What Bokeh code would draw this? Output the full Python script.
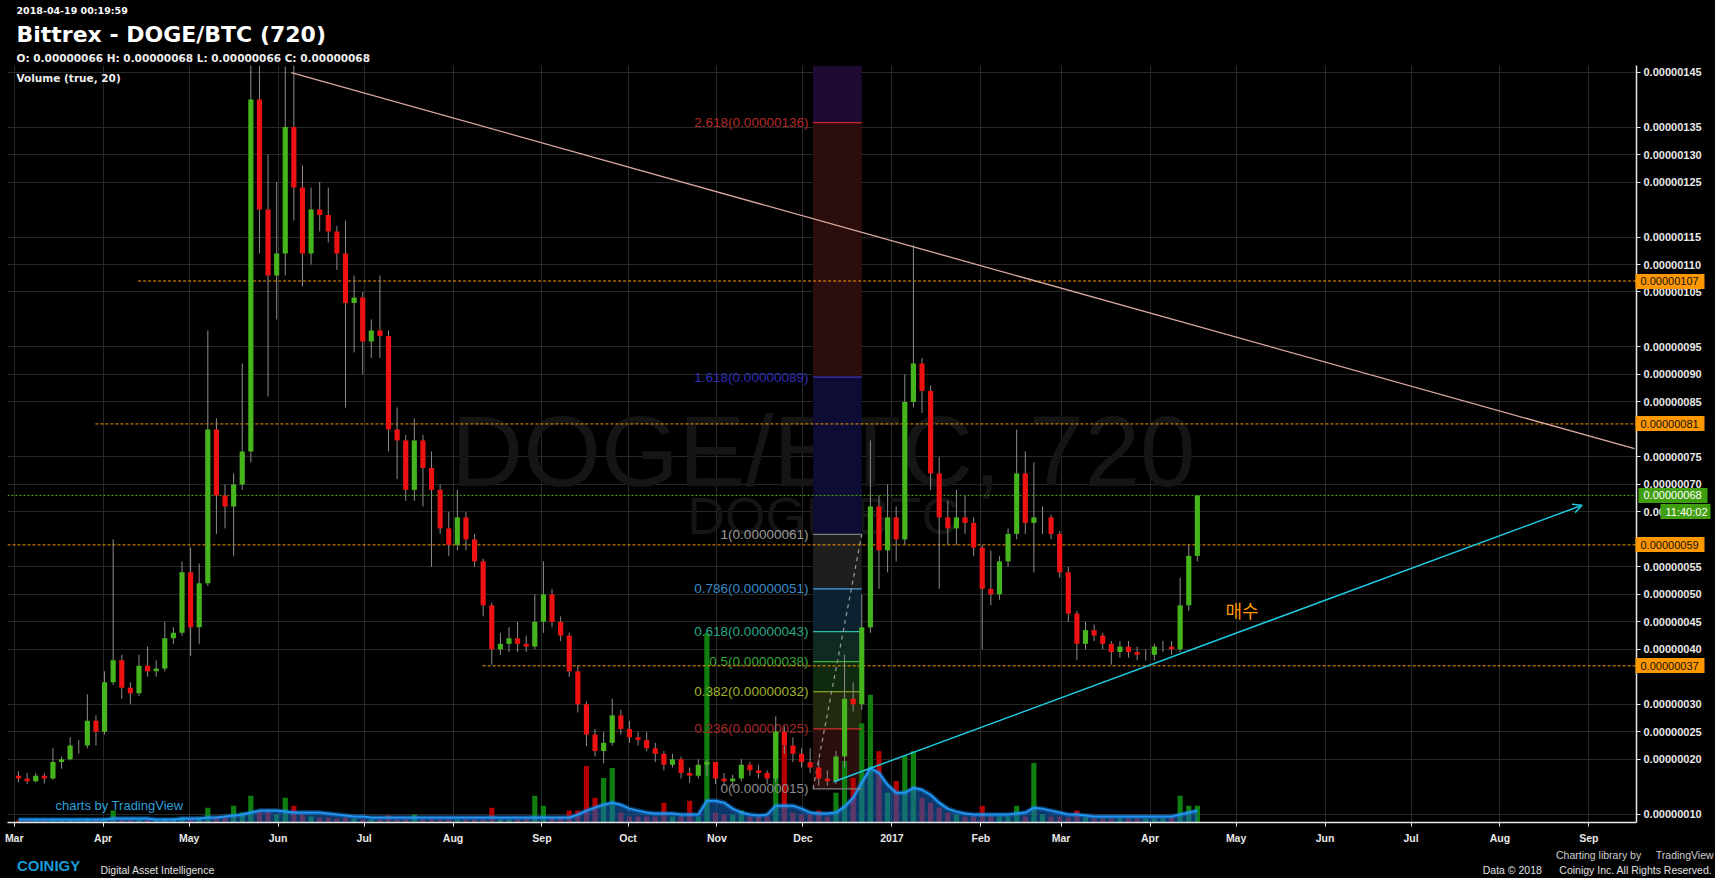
import numpy as np
import pandas as pd
from bokeh.plotting import figure
from bokeh.models import (Range1d, FixedTicker, PrintfTickFormatter, Label, Arrow, OpenHead, Title, LinearAxis)
from bokeh.core.properties import value
from bokeh.embed import file_html
from bokeh.resources import INLINE

SAT = 1e-8                      # prices below are in satoshi
START = pd.Timestamp("2017-03-01")
CANDLE_DAYS = 3                 # each candle below summarises 3 days

# ---------------- data ----------------
opens = [17, 16.5, 16, 17, 16.5, 19.5, 20, 22.5, 22.5, 27, 25, 34, 38, 33, 32, 37, 36, 36.5, 42, 43,
         54, 44, 52, 80, 68, 66, 70, 76, 140, 120, 108, 112, 135, 124, 112, 120, 119, 116, 112, 103,
         104, 96, 98, 97, 80, 78, 69, 78, 73, 69, 62, 59, 64, 60, 56, 48, 40, 41, 42, 41,
         40.5, 45, 50, 45, 42.5, 36, 30, 24.5, 21.5, 23, 28, 25.5, 24, 23.5, 22, 21, 19, 20, 17.5, 17,
         19, 19.5, 16.5, 16, 16.5, 19, 18, 17.5, 16.5, 25, 22.5, 21, 19.5, 18.5, 16.5, 16, 20.5, 31, 30, 44,
         66, 58, 64, 60, 85, 92, 87, 72, 64, 62, 64, 63, 58.5, 51, 50, 56, 61, 72, 63, 64,
         64, 61, 54, 46.5, 41, 43.5, 42.5, 41, 39.5, 40.5, 39.5, 39, 39, 40.5, 40.5, 40, 48, 57]
highs = [17.8, 17.5, 17.5, 17.5, 22, 20.5, 24, 23.5, 31.8, 28, 36, 60, 39, 34, 39, 40.5, 38, 45, 44, 56,
         58.5, 55.6, 98, 82, 70, 72, 92, 160, 152, 130, 125, 146, 147, 128, 124, 125, 124, 117, 118, 108,
         105, 100, 108, 98, 84, 79, 82, 79, 76, 70, 65, 69, 65, 61, 56.5, 48.5, 43, 44, 45, 42.5,
         50, 56, 51, 46, 43, 37, 30.5, 25.5, 25, 31, 29, 27, 25, 25, 23, 21.5, 21, 20.5, 18.5, 20,
         20, 19.5, 17.5, 17.2, 20, 19.5, 19, 18, 27.8, 26, 24, 22, 22, 20, 18, 21.5, 39, 34, 50, 78,
         68, 70, 66, 90, 113.5, 93, 88, 75, 67, 69, 68, 64, 59, 58, 57, 62, 80, 76, 74, 66,
         64.5, 61.5, 55, 47, 45, 44.5, 43, 41.5, 41.5, 41.5, 40.5, 40, 41, 41.5, 41.5, 53, 59, 68]
lows = [15.8, 15.5, 15.8, 15.6, 16.3, 18.3, 19.8, 21, 22, 22.5, 24.5, 33.5, 31, 30, 31.5, 35, 35, 36, 41, 42.5,
        38.8, 41, 51.5, 61, 62, 57, 69, 74, 112, 86, 100, 108, 118, 106, 110, 116, 114, 109, 84, 94,
        90, 93, 93, 76, 71, 67, 67, 66, 55, 61, 57, 58, 58, 55, 46, 37.2, 39, 39.5, 39.5, 39.5,
        40, 43, 44, 41.5, 35, 28.5, 22.4, 20.5, 19.3, 22.5, 24.5, 23, 22.5, 21.5, 19.5, 18, 18.5, 16.5, 15.7, 16.5,
        17, 15.5, 15.2, 14.8, 16, 17, 16.5, 15.5, 15.8, 21, 19.5, 18.5, 17.5, 15.2, 15.2, 15.5, 18.5, 28.7, 29, 43,
        51, 54, 56, 59, 84, 83, 69, 51, 59, 59, 61, 57, 40, 48, 49, 55, 60, 61, 54, 61,
        60, 53, 45, 38, 40, 41.5, 40, 37.2, 38.5, 38.5, 38, 38, 38, 39.5, 39, 39.5, 47, 56]
closes = [16.5, 16, 17, 16.5, 19.5, 20, 22.5, 22.5, 27, 25, 34, 38, 33, 32, 37, 36, 36.5, 42, 43, 54,
          44, 52, 80, 68, 66, 70, 76, 140, 120, 108, 112, 135, 124, 112, 120, 119, 116, 112, 103, 104,
          96, 98, 97, 80, 78, 69, 78, 73, 69, 62, 59, 64, 60, 56, 48, 40, 41, 42, 41, 40.5,
          45, 50, 45, 42.5, 36, 30, 24.5, 21.5, 23, 28, 25.5, 24, 23.5, 22, 21, 19, 20, 17.5, 17, 19,
          19.5, 16.5, 16, 16.5, 19, 18, 17.5, 16.5, 25, 22.5, 21, 19.5, 18.5, 16.5, 16, 20.5, 31, 30, 44, 66,
          58, 64, 60, 85, 92, 87, 72, 64, 62, 64, 63, 58.5, 51, 50, 56, 61, 72, 63, 64, 64,
          61, 54, 46.5, 41, 43.5, 42.5, 41, 39.5, 40.5, 39.5, 39, 39, 40.5, 40.5, 40, 48, 57, 68]
volumes = [2, 2, 2, 2, 3, 2, 3, 2, 4, 3, 4, 12, 3, 3, 3, 3, 3, 4, 4, 5,
           4, 5, 15, 6, 6, 17, 10, 27, 12, 12, 8, 25, 17, 8, 6, 5, 5, 4, 5, 4,
           3, 3, 3, 7, 3, 3, 8, 3, 3, 3, 3, 3, 3, 3, 3, 15, 3, 3, 3, 4,
           27, 17, 5, 6, 12, 12, 57, 25, 45, 55, 10, 6, 6, 6, 6, 20, 6, 6, 22, 6,
           191, 10, 8, 8, 12, 6, 6, 6, 92, 77, 10, 8, 8, 12, 6, 30, 62, 45, 100, 129,
           72, 30, 42, 67, 72, 25, 20, 15, 10, 8, 6, 6, 17, 6, 6, 6, 17, 6, 60, 8,
           6, 6, 5, 12, 5, 4, 4, 4, 4, 4, 4, 4, 4, 4, 5, 27, 17, 17]
volume_ma = [3, 3, 3, 3, 3, 3, 3, 3, 3, 3, 3, 4, 4, 4, 4, 4, 3, 3, 3, 4,
             4, 4, 5, 5, 6, 7, 8, 10, 12, 12, 12, 11, 10, 10, 10, 10, 9, 8, 7, 6,
             6, 5, 5, 5, 5, 5, 5, 5, 5, 5, 5, 5, 5, 5, 5, 5, 5, 5, 5, 5,
             5, 5, 5, 5, 5, 8, 12, 15, 18, 20, 18, 14, 12, 10, 9, 9, 9, 8, 8, 8,
             22, 22, 20, 14, 10, 8, 7, 8, 17, 17, 17, 14, 10, 9, 9, 10, 16, 25, 40, 55,
             50, 38, 30, 30, 35, 33, 28, 20, 14, 11, 9, 8, 8, 8, 8, 8, 9, 10, 15, 14,
             12, 10, 8, 8, 7, 6, 6, 6, 6, 6, 6, 6, 6, 6, 6, 8, 10, 12]

month_starts = pd.date_range("2017-03-01", "2018-09-01", freq="MS")
month_labels = ["Mar", "Apr", "May", "Jun", "Jul", "Aug", "Sep", "Oct", "Nov", "Dec",
                "2017", "Feb", "Mar", "Apr", "May", "Jun", "Jul", "Aug", "Sep"]
price_ticks = [10, 20, 25, 30, 40, 45, 50, 55, 65, 70, 75, 85, 90, 95, 105, 110, 115, 125, 130, 135, 145]

level_prices = [107, 81, 59, 37]
level_start_days = [43.2, 28.3, -2.34, 163.3]
last_price = 68
countdown = "11:40:02"
countdown_at = 65

fib_levels = [0, 0.236, 0.382, 0.5, 0.618, 0.786, 1, 1.618, 2.618]
fib_texts = ["0(0.00000015)", "0.236(0.00000025)", "0.382(0.00000032)", "0.5(0.00000038)",
             "0.618(0.00000043)", "0.786(0.00000051)", "1(0.00000061)", "1.618(0.00000089)",
             "2.618(0.00000136)"]
fib_low, fib_high = 14.6, 60.9
fib_day0, fib_day1 = 278.5, 295.5

trend_pts = dict(x0=96.6, y0=144.9, x1=564.9, y1=76.5)
support_pts = dict(x0=285.7, y0=15.9, x1=546.6, y1=66.2)

# ---------------- figure ----------------
X0, X1 = -2.34, 565.6
Y0, Y1 = 8.5, 146.2
ML, MR, MT, MB = 7, 79, 65, 49
W, H = 1715, 878
FW, FH = W - ML - MR, H - MT - MB

p = figure(width=W, height=H, x_range=Range1d(X0, X1), y_range=Range1d(Y0 * SAT, Y1 * SAT),
           y_axis_location="right", output_backend="svg", toolbar_location=None, title=None,
           min_border_left=ML, min_border_right=MR, min_border_top=MT, min_border_bottom=MB,
           background_fill_color="#000000", border_fill_color="#000000", outline_line_color=None)
p.extra_y_ranges = {"vol": Range1d(0, FH), "sat": Range1d(Y0, Y1)}

month_days = [int((d - START).days) for d in month_starts]
p.xaxis.ticker = FixedTicker(ticks=month_days)
p.xaxis.major_label_overrides = {d: lab for d, lab in zip(month_days, month_labels)}
p.xgrid.ticker = FixedTicker(ticks=month_days)
tick_vals = [t * SAT for t in price_ticks]
p.yaxis.ticker = FixedTicker(ticks=tick_vals)
p.yaxis.formatter = PrintfTickFormatter(format="%.8f")
p.ygrid.ticker = FixedTicker(ticks=tick_vals)
for g in (p.xgrid, p.ygrid):
    g.grid_line_color = "#282828"
    g.grid_line_width = 1
for ax in (p.xaxis, p.yaxis):
    ax.axis_line_color = "#e6e6e6"
    ax.axis_line_width = 1.5
    ax.major_tick_line_color = "#e6e6e6"
    ax.major_tick_in = 0
    ax.major_tick_out = 4
    ax.minor_tick_line_color = None
    ax.major_label_text_color = "#e8e8e8"
    ax.major_label_text_font_style = "bold"
    ax.major_label_text_font = "Liberation Sans"
p.yaxis.major_label_text_font_size = "11px"
p.xaxis.major_label_text_font_size = "10.5px"
p.yaxis.major_label_standoff = 3
p.xaxis.major_label_standoff = 5

# watermark
p.text(x=[282.1, 282.1], y=[76.1 * SAT, 64.2 * SAT], text=["DOGE/BTC, 720", "DOGE/BTC"],
       text_font_size=["100px", "52px"], text_font=value("Liberation Sans"), text_color="#151515",
       text_align="center", text_baseline="alphabetic")

# fibonacci zones
fib_prices = [fib_low + lv * (fib_high - fib_low) for lv in fib_levels]
fib_fill = ["#2b0e0e", "#222a0d", "#102a10", "#0e2a22", "#0d2230", "#1e1e1e", "#0c0c34", "#2b0d0d", "#1f0b32"]
p.quad(left=fib_day0, right=fib_day1, bottom=[v * SAT for v in fib_prices],
       top=[v * SAT for v in fib_prices[1:]] + [Y1 * SAT], fill_color=fib_fill, line_color=None)

# volume
xs = np.arange(len(closes)) * CANDLE_DAYS + CANDLE_DAYS / 2
up = np.array(closes) >= np.array(opens)
p.vbar(x=xs, top=volumes, bottom=0, width=1.8, y_range_name="vol",
       fill_color=np.where(up, "#0f800f", "#b50000").tolist(), line_color=None)
p.varea(x=xs, y1=0, y2=volume_ma, y_range_name="vol", fill_color="#1565c0", fill_alpha=0.55)
p.line(x=xs, y=volume_ma, y_range_name="vol", line_color="#1e88e5", line_width=5, line_alpha=0.35)
p.line(x=xs, y=volume_ma, y_range_name="vol", line_color="#2196f3", line_width=2)

# fib lines and labels
fib_line_colors = ["#808080", "#d03030", "#a0c030", "#40b040", "#30c0a0", "#4a9fe0", "#808080", "#3434c8", "#c62a2a"]
fib_text_colors = ["#8c8c8c", "#a82828", "#a0b22a", "#38a838", "#2aa888", "#3a8ac8", "#9a9a9a", "#2e2eb8", "#b22a2a"]
p.segment(x0=fib_day0, x1=fib_day1, y0=[v * SAT for v in fib_prices], y1=[v * SAT for v in fib_prices],
          line_color=fib_line_colors, line_width=1.2)
p.text(x=fib_day0 - 1.6, y=[v * SAT for v in fib_prices], text=fib_texts, text_color=fib_text_colors,
       text_font=value("Liberation Sans"), text_font_size=value("13.5px"), text_align="right",
       text_baseline="middle")
p.segment(x0=[fib_day0], y0=[fib_low * SAT], x1=[fib_day1], y1=[fib_high * SAT],
          line_color="#9a9a9a", line_dash="4 4", line_width=1.2)

# horizontal levels
p.segment(x0=level_start_days, x1=X1, y0=[v * SAT for v in level_prices], y1=[v * SAT for v in level_prices],
          line_color="#ff9800", line_dash="3 2", line_width=1)
p.segment(x0=[X0], x1=[X1], y0=[last_price * SAT], y1=[last_price * SAT],
          line_color="#4caf1a", line_dash="2 2", line_width=1)

# candles
o = np.array(opens) * SAT
c = np.array(closes) * SAT
p.segment(x0=xs, x1=xs, y0=np.array(lows) * SAT, y1=np.array(highs) * SAT, line_color="#8c8c8c", line_width=1)
p.vbar(x=xs, top=np.maximum(o, c), bottom=np.minimum(o, c), width=1.8,
       fill_color=np.where(up, "#46b41c", "#ee1111").tolist(), line_color=None)

# trend lines
p.segment(x0=[trend_pts["x0"]], y0=[trend_pts["y0"] * SAT], x1=[trend_pts["x1"]], y1=[trend_pts["y1"] * SAT],
          line_color="#d8aaa0", line_width=1.3)
p.add_layout(Arrow(end=OpenHead(size=9, line_color="#1ec8e0", line_width=1.5),
                   x_start=support_pts["x0"], y_start=support_pts["y0"] * SAT,
                   x_end=support_pts["x1"], y_end=support_pts["y1"] * SAT,
                   line_color="#1ec8e0", line_width=1.5))
p.text(x=[422.3], y=[47.1 * SAT], text=["매수"], text_color="#ff9800", text_font=value("Noto Sans CJK KR"),
       text_font_size=value("18px"), text_align="left", text_baseline="middle")

# ---------------- header (titles) ----------------
def title(text, size, standoff, color="#ffffff"):
    p.add_layout(Title(text=text, align="left", offset=9, text_font="DejaVu Sans", text_font_size=size,
                       text_font_style="bold", text_color=color, standoff=standoff), "above")

title("O: 0.00000066 H: 0.00000068 L: 0.00000066 C: 0.00000068", "10.5px", 3, "#eeeeee")
title("Bittrex - DOGE/BTC (720)", "22px", 4)
title("2018-04-19 00:19:59", "9.5px", 3)

# ---------------- in-frame labels ----------------
FB = H - MB  # page y of frame bottom

def lab(text, px, py, size, color="#ffffff", font="DejaVu Sans", style="bold", align="left"):
    p.add_layout(Label(x=px - ML, y=FB - py, x_units="screen", y_units="screen", text=text, text_font=font,
                       text_font_size=size, text_font_style=style, text_color=color, text_align=align,
                       text_baseline="middle"))

lab("Volume (true, 20)", 16, 84, "10.5px", color="#eeeeee")
lab("charts by TradingView", 55, 812, "13px", color="#2b9fd8", font="Liberation Sans", style="normal")

# ---------------- text axes: price boxes on the price scale ----------------
NB = "\u00a0"

def box_axis(ticks, labels, fg, bg, tick_in, tick_out, standoff):
    p.add_layout(LinearAxis(y_range_name="sat", ticker=FixedTicker(ticks=ticks),
                            major_label_overrides=dict(zip(ticks, labels)), axis_line_color=None,
                            major_tick_line_color=bg, major_tick_line_width=15,
                            major_tick_in=tick_in, major_tick_out=tick_out, minor_tick_line_color=None,
                            major_label_standoff=standoff, major_label_text_color=fg,
                            major_label_text_font="Liberation Sans", major_label_text_font_size="11px",
                            major_label_text_font_style="normal"), "right")

box_axis(level_prices, ["%.8f" % (v * SAT) + NB * 2 for v in level_prices], "#111111", "#ff9800", 69, 0, -64)
box_axis([last_price], ["%.8f" % (last_price * SAT) + NB * 2], "#ffffff", "#3f9f10", 69, 0, -64)
box_axis([countdown_at], [countdown], "#ffffff", "#3f9f10", 50, 0, -45)

# ---------------- text axes: footer ----------------
def text_axis(ticks, labels, color, size, style, standoff):
    p.add_layout(LinearAxis(ticker=FixedTicker(ticks=ticks), major_label_overrides=dict(zip(ticks, labels)),
                            axis_line_color=None, major_tick_line_color=None, minor_tick_line_color=None,
                            major_tick_out=0, major_tick_in=0, major_label_standoff=standoff,
                            major_label_text_color=color, major_label_text_font="Liberation Sans",
                            major_label_text_font_size=size, major_label_text_font_style=style), "below")

text_axis([565], ["Charting library by" + NB * 5 + "TradingView"], "#cfcfcf", "10.5px", "normal", 2)
text_axis([12], ["COINIGY"], "#1a9ad6", "15px", "bold", -7)
text_axis([50, 552], ["Digital Asset Intelligence", "Data © 2018" + NB * 6 + "Coinigy Inc. All Rights Reserved."],
          "#e0e0e0", "10.5px", "normal", -13)

html = file_html(p, INLINE, title="DOGE/BTC")
html = html.replace("<head>", "<head><style>html,body{background:#000000;}</style>", 1)
open("out.html", "w").write(html)
